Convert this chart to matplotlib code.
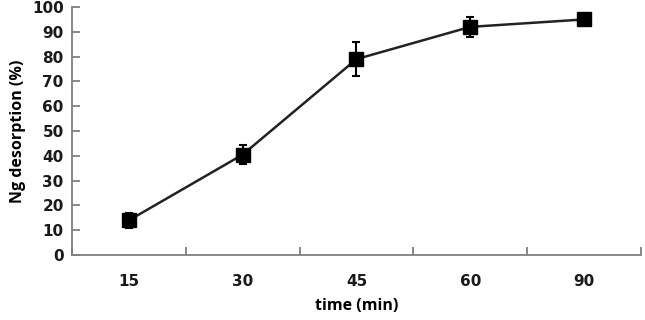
import matplotlib
matplotlib.use("Agg")
import matplotlib.pyplot as plt
import numpy as np

categories = ["15", "30", "45", "60", "90"]
values = [14, 40.5, 79, 92, 95]
errors = [3, 3.8, 7, 4, 1.5]
yticks = [0, 10, 20, 30, 40, 50, 60, 70, 80, 90, 100]

fig = plt.figure(figsize=(6.45, 3.2), dpi=100)
ax = fig.add_axes([0.1116, 0.203, 0.8822, 0.775])

x = np.arange(len(categories))
ax.errorbar(x, values, yerr=errors, color="#222222", lw=1.8, marker="s",
            markersize=10, mfc="black", mec="black", ecolor="black",
            elinewidth=1.5, capsize=3.2, capthick=1.5)

ax.set_xlim(-0.5, len(categories) - 0.5)
ax.set_ylim(0, 100)
ax.set_yticks(yticks)
ax.set_xticks(x)
ax.set_xticklabels(categories)
ax.set_xticks(np.arange(-0.5, len(categories), 1.0), minor=True)

for s in ["top", "right"]:
    ax.spines[s].set_visible(False)
for s in ["left", "bottom"]:
    ax.spines[s].set_color("#7f7f7f")
    ax.spines[s].set_linewidth(1.3)

ax.tick_params(axis="x", which="major", length=0, pad=14)
ax.tick_params(axis="x", which="minor", direction="in", length=6, width=1.3, color="#7f7f7f")
ax.tick_params(axis="y", direction="in", length=6, width=1.3, color="#7f7f7f", pad=6)

for lab in ax.get_xticklabels() + ax.get_yticklabels():
    lab.set_fontsize(11)
    lab.set_fontweight("bold")
    lab.set_color("#1a1a1a")

ax.set_xlabel("time (min)", fontsize=11.5, fontweight="bold", family="Open Sans", labelpad=6)
ax.set_ylabel("Ng desorption (%)", fontsize=11.5, fontweight="bold", family="Open Sans", labelpad=4)

fig.savefig("out.png", dpi=100)
